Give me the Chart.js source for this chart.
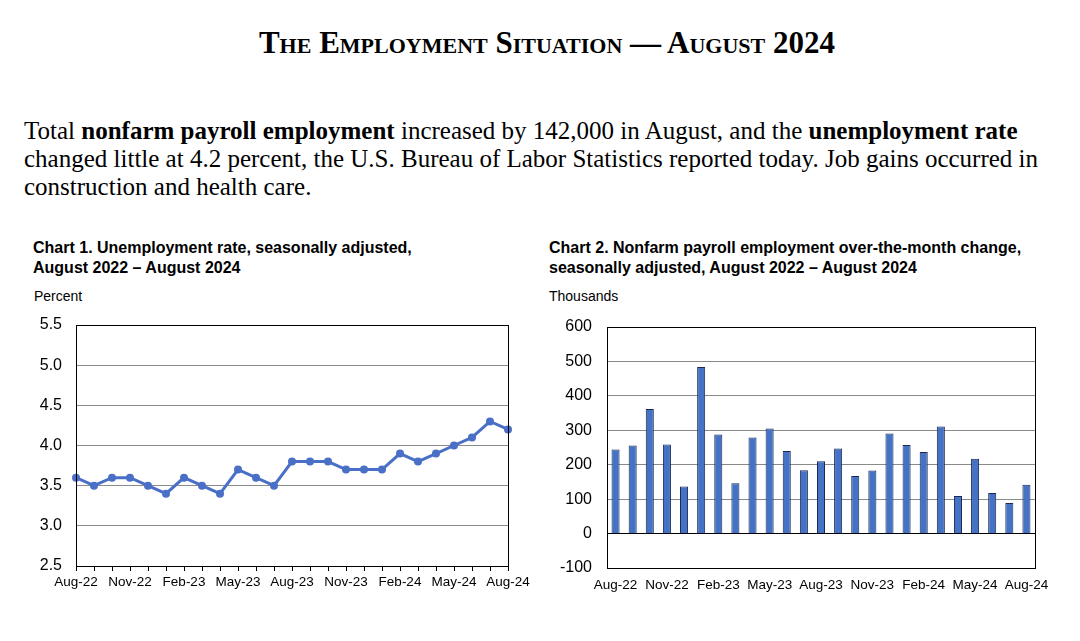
<!DOCTYPE html>
<html>
<head>
<meta charset="utf-8">
<script src="https://cdn.jsdelivr.net/npm/chart.js@4.4.1/dist/chart.umd.min.js"></script>
<style>
    body { margin: 0; background: #fff; width: 1080px; height: 641px; position: relative; overflow: hidden; }
    .title { position: absolute; top: 26px; left: 0; width: 1094px; text-align: center; font-family: "Liberation Serif", serif; font-weight: bold; font-variant: small-caps; font-size: 31px; line-height: 34px; color: #000; }
    .lead { position: absolute; top: 117px; left: 24px; width: 1056px; white-space: nowrap; font-family: "Liberation Serif", serif; font-size: 25px; line-height: 28px; color: #000; }
    .ctitle { position: absolute; font-family: "Liberation Sans", Arial, sans-serif; font-weight: bold; font-size: 16px; line-height: 20px; color: #000; }
    .unit { position: absolute; font-family: "Liberation Sans", Arial, sans-serif; font-size: 14px; color: #000; }
    .box { position: absolute; width: 520px; height: 290px; top: 312px; }
</style>
</head>
<body>
<div class="title">The Employment Situation — August 2024</div>
<div class="lead">Total <b>nonfarm payroll employment</b> increased by 142,000 in August, and the <b>unemployment rate</b><br>changed little at 4.2 percent, the U.S. Bureau of Labor Statistics reported today. Job gains occurred in<br>construction and health care.</div>

<div class="ctitle" style="left:33px; top:238px;">Chart 1. Unemployment rate, seasonally adjusted,<br>August 2022 – August 2024</div>
<div class="unit" style="left:34px; top:288px;">Percent</div>
<div class="box" style="left:20px;"><canvas id="chart1"></canvas></div>

<div class="ctitle" style="left:549px; top:238px;">Chart 2. Nonfarm payroll employment over-the-month change,<br>seasonally adjusted, August 2022 – August 2024</div>
<div class="unit" style="left:549px; top:288px;">Thousands</div>
<div class="box" style="left:540px;"><canvas id="chart2"></canvas></div>

<script>
// months Aug-22 .. Aug-24
var months = ['Aug-22', 'Sep-22', 'Oct-22', 'Nov-22', 'Dec-22', 'Jan-23', 'Feb-23', 'Mar-23', 'Apr-23',
    'May-23', 'Jun-23', 'Jul-23', 'Aug-23', 'Sep-23', 'Oct-23', 'Nov-23', 'Dec-23', 'Jan-24', 'Feb-24',
    'Mar-24', 'Apr-24', 'May-24', 'Jun-24', 'Jul-24', 'Aug-24'];

var unemploymentRate = [3.6, 3.5, 3.6, 3.6, 3.5, 3.4, 3.6, 3.5, 3.4, 3.7, 3.6, 3.5, 3.8,
    3.8, 3.8, 3.7, 3.7, 3.7, 3.9, 3.8, 3.9, 4.0, 4.1, 4.3, 4.2];

var payrollChange = [244, 256, 362, 259, 137, 484, 288, 146, 279, 305, 240, 184, 210,
    247, 167, 183, 291, 257, 237, 311, 109, 217, 118, 89, 142];

var rateTicks = { min: 2.5, max: 5.5, step: 0.5 };
var payrollTicks = { min: -100, max: 600, step: 100 };

var FONT = '"Liberation Sans", Arial, sans-serif';

// black frame around the plot area
var framePlugin = {
    id: 'frame',
    afterDraw(chart) {
        var a = chart.chartArea, ctx = chart.ctx;
        ctx.save();
        ctx.strokeStyle = '#000';
        ctx.lineWidth = 1;
        ctx.strokeRect(Math.round(a.left) + 0.5, Math.round(a.top) + 0.5, Math.round(a.right - a.left), Math.round(a.bottom - a.top));
        ctx.restore();
    }
};

function everyThird(val, idx) {
    return idx % 3 === 0 ? months[idx] : '';
}

new Chart(document.getElementById('chart1'), {
    type: 'line',
    data: {
        labels: months,
        datasets: [{
            data: unemploymentRate,
            borderColor: '#4a6fc6',
            backgroundColor: '#4a6fc6',
            borderWidth: 3,
            pointRadius: 4,
            pointBorderWidth: 0,
            clip: false,
            tension: 0
        }]
    },
    options: {
        responsive: true,
        maintainAspectRatio: false,
        animation: false,
        layout: { padding: { left: 0, right: 32, top: 13, bottom: 6 } },
        plugins: { legend: { display: false }, tooltip: { enabled: false } },
        scales: {
            x: {
                offset: false,
                border: { display: false },
                grid: { drawOnChartArea: false, drawTicks: true, tickLength: 5, color: '#000' },
                ticks: { autoSkip: false, maxRotation: 0, padding: 3, color: '#000', font: { family: FONT, size: 13.5 }, callback: everyThird },
                afterFit: s => { s.height = 30; }
            },
            y: {
                min: rateTicks.min, max: rateTicks.max,
                border: { display: false },
                // invisible tick marks give the label gap without pushing the plot top down
                grid: { color: '#8a8a8a', drawTicks: true, tickLength: 12, tickColor: 'rgba(0,0,0,0)' },
                ticks: { stepSize: rateTicks.step, padding: 2, color: '#000', font: { family: FONT, size: 16 }, callback: v => v.toFixed(1) },
                afterFit: s => { s.width = 56; }
            }
        }
    },
    plugins: [framePlugin]
});

new Chart(document.getElementById('chart2'), {
    type: 'bar',
    data: {
        labels: months,
        datasets: [{
            data: payrollChange,
            backgroundColor: '#4472c4',
            borderColor: '#1c2754',
            borderWidth: 1,
            barPercentage: 0.47,
            categoryPercentage: 1
        }]
    },
    options: {
        responsive: true,
        maintainAspectRatio: false,
        animation: false,
        layout: { padding: { left: 0, right: 25, top: 15, bottom: 4 } },
        plugins: { legend: { display: false }, tooltip: { enabled: false } },
        scales: {
            x: {
                border: { display: false },
                grid: { display: false, drawTicks: false },
                ticks: { autoSkip: false, maxRotation: 0, padding: 9, color: '#000', font: { family: FONT, size: 13.5 }, callback: everyThird },
                afterFit: s => { s.height = 30; }
            },
            y: {
                min: payrollTicks.min, max: payrollTicks.max,
                border: { display: false },
                grid: { color: c => c.tick && c.tick.value === 0 ? '#000' : '#8a8a8a', drawTicks: true, tickLength: 13, tickColor: 'rgba(0,0,0,0)' },
                ticks: { stepSize: payrollTicks.step, padding: 2, color: '#000', font: { family: FONT, size: 16 } },
                afterFit: s => { s.width = 67; }
            }
        }
    },
    plugins: [framePlugin]
});
</script>
</body>
</html>
